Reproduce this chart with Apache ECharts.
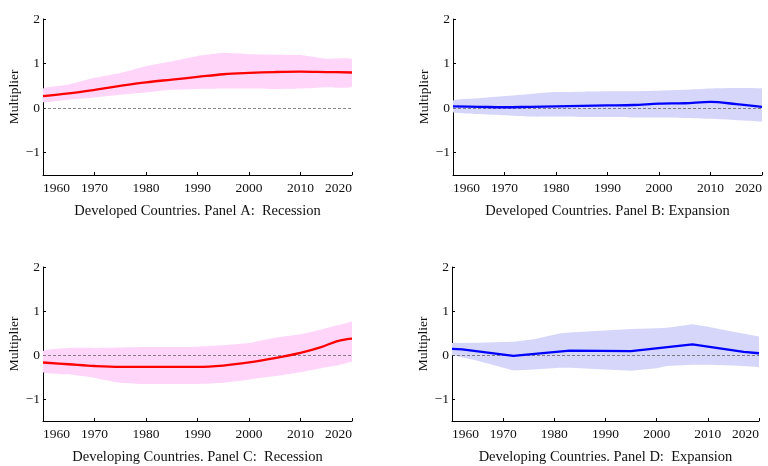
<!doctype html>
<html>
<head>
    <meta charset="utf-8">
    <title>Multiplier panels</title>
    <script src="https://cdn.jsdelivr.net/npm/echarts@6/dist/echarts.min.js"></script>
    <style>
        html, body { margin: 0; padding: 0; background: #fff; }
        #main { width: 768px; height: 466px; }
    </style>
</head>
<body>
    <div id="main"></div>
<script type="text/javascript">
    // year grids
    var years = [1960, 1965, 1970, 1975, 1980, 1985, 1990, 1995, 2000, 2005, 2010, 2015, 2020];
    var yearsC = [1960, 1965, 1970, 1975, 1980, 1985, 1990, 1995, 2000, 2005, 2010, 2014, 2017, 2019, 2020];
    var yearsDLine = [1960, 1962, 1972, 1983, 1995, 2007, 2017, 2020];
    var yearsDBand = [1960, 1965, 1972, 1976, 1981, 1983, 1995, 2000, 2002, 2007, 2010, 2015, 2020];

    // Panel A: developed, recession
    var lineA = [0.27, 0.33, 0.41, 0.50, 0.58, 0.64, 0.70, 0.76, 0.79, 0.81, 0.82, 0.81, 0.80];
    var upA   = [0.44, 0.53, 0.68, 0.79, 0.94, 1.05, 1.17, 1.24, 1.21, 1.20, 1.19, 1.11, 1.10];
    var loA   = [0.13, 0.19, 0.24, 0.30, 0.35, 0.41, 0.43, 0.44, 0.44, 0.43, 0.44, 0.47, 0.48];

    // Panel B: developed, expansion
    var lineB = [0.04, 0.03, 0.02, 0.03, 0.04, 0.05, 0.06, 0.07, 0.10, 0.11, 0.14, 0.09, 0.03];
    var upB   = [0.17, 0.22, 0.27, 0.32, 0.36, 0.37, 0.38, 0.38, 0.39, 0.41, 0.44, 0.45, 0.44];
    var loB   = [-0.09, -0.13, -0.16, -0.19, -0.19, -0.20, -0.20, -0.21, -0.21, -0.22, -0.24, -0.27, -0.30];

    // Panel C: developing, recession
    var lineC = [-0.17, -0.21, -0.25, -0.27, -0.27, -0.27, -0.27, -0.24, -0.17, -0.07, 0.05, 0.18, 0.31, 0.36, 0.37];
    var upC   = [0.09, 0.16, 0.16, 0.17, 0.18, 0.18, 0.19, 0.22, 0.27, 0.39, 0.47, 0.58, 0.67, 0.73, 0.76];
    var loC   = [-0.39, -0.44, -0.52, -0.63, -0.66, -0.66, -0.66, -0.63, -0.56, -0.48, -0.39, -0.30, -0.24, -0.18, -0.15];

    // Panel D: developing, expansion
    var lineD = [0.14, 0.13, -0.02, 0.10, 0.09, 0.24, 0.07, 0.04];
    var upD   = [0.27, 0.28, 0.30, 0.36, 0.49, 0.51, 0.59, 0.61, 0.62, 0.70, 0.64, 0.53, 0.42];
    var loD   = [0.00, -0.13, -0.35, -0.33, -0.29, -0.29, -0.36, -0.30, -0.25, -0.22, -0.22, -0.24, -0.27];

    var yTicks = [-1, 0, 1, 2];
    var titles = [
        'Developed Countries. Panel A:  Recession',
        'Developed Countries. Panel B: Expansion',
        'Developing Countries. Panel C:  Recession',
        'Developing Countries. Panel D:  Expansion'
    ];

    var FONT = 'Liberation Serif';
    var PINK = '#ffd6fa', LAV = '#d6d6fb';

    function pairs(xs, ys) {
        return xs.map(function (x, i) { return [x, ys[i]]; });
    }

    var panels = [
        { grid: { left: 43, top: 19, width: 309, height: 156 }, lx: years, lv: lineA, bx: years, up: upA, lo: loA, color: '#ff0000', fill: PINK, smooth: 0.35 },
        { grid: { left: 453, top: 19, width: 309, height: 156 }, lx: years, lv: lineB, bx: years, up: upB, lo: loB, color: '#0000ff', fill: LAV, smooth: 0.35 },
        { grid: { left: 43, top: 267, width: 309, height: 156 }, lx: yearsC, lv: lineC, bx: yearsC, up: upC, lo: loC, color: '#ff0000', fill: PINK, smooth: 0.35 },
        { grid: { left: 452, top: 267, width: 307, height: 156 }, lx: yearsDLine, lv: lineD, bx: yearsDBand, up: upD, lo: loD, color: '#0000ff', fill: LAV, smooth: false }
    ];

    // confidence band as a polygon: upper edge left->right, lower edge right->left
    function bandRenderer(p) {
        return function (params, api) {
            if (params.dataIndex !== 0) return;
            var pts = [], k;
            for (k = 0; k < p.bx.length; k++) pts.push(api.coord([p.bx[k], p.up[k]]));
            for (k = p.bx.length - 1; k >= 0; k--) pts.push(api.coord([p.bx[k], p.lo[k]]));
            var minX = Infinity, minY = Infinity, maxX = -Infinity, maxY = -Infinity;
            pts.forEach(function (q) {
                minX = Math.min(minX, q[0]); maxX = Math.max(maxX, q[0]);
                minY = Math.min(minY, q[1]); maxY = Math.max(maxY, q[1]);
            });
            return {
                type: 'polygon',
                shape: {
                    points: pts,
                    smooth: p.smooth ? 0.15 : 0,
                    smoothConstraint: [[minX, minY], [maxX, maxY]]
                },
                style: { fill: p.fill, stroke: null }
            };
        };
    }

    var grids = [], xAxes = [], yAxes = [], series = [];
    panels.forEach(function (p, i) {
        grids.push(p.grid);
        xAxes.push({
            type: 'value', gridIndex: i, min: 1960, max: 2020, interval: 10,
            name: titles[i], nameLocation: 'middle', nameGap: 29,
            nameTextStyle: { fontFamily: FONT, fontSize: 14.5, color: '#111' },
            axisLine: { onZero: false, lineStyle: { color: '#000', width: 1 } },
            axisTick: { inside: true, length: 3, lineStyle: { color: '#000' } },
            axisLabel: { fontFamily: FONT, fontSize: 13.5, color: '#111', margin: 6,
                         alignMinLabel: 'left', alignMaxLabel: 'right',
                         formatter: function (v) { return String(v); } },
            splitLine: { show: false }
        });
        yAxes.push({
            type: 'value', gridIndex: i, min: -1.5, max: 2,
            name: 'Multiplier', nameLocation: 'middle', nameGap: 15,
            nameTextStyle: { fontFamily: FONT, fontSize: 13.5, color: '#111' },
            axisLine: { show: true, onZero: false, lineStyle: { color: '#000', width: 1 } },
            axisTick: { show: true, inside: true, length: 3, customValues: yTicks, lineStyle: { color: '#000' } },
            axisLabel: { fontFamily: FONT, fontSize: 13.5, color: '#111', margin: 3, customValues: yTicks,
                         formatter: function (v) { return v < 0 ? '\u2212' + (-v) : String(v); } },
            splitLine: { show: false }
        });
        series.push({
            type: 'custom', xAxisIndex: i, yAxisIndex: i, silent: true, z: 1,
            data: pairs(p.bx, p.lo),
            renderItem: bandRenderer(p)
        });
        series.push({
            type: 'line', xAxisIndex: i, yAxisIndex: i, z: 5,
            data: pairs(p.lx, p.lv), symbol: 'none', smooth: p.smooth,
            lineStyle: { color: p.color, width: 2.3 },
            markLine: {
                silent: true, symbol: 'none', label: { show: false }, z: 3,
                lineStyle: { type: [3, 2], color: '#555', width: 0.7 },
                data: [{ yAxis: 0 }]
            }
        });
    });

    var myChart = echarts.init(document.getElementById('main'));
    myChart.setOption({
        animation: false,
        backgroundColor: '#fff',
        grid: grids,
        xAxis: xAxes,
        yAxis: yAxes,
        series: series
    });
</script>
</body>
</html>
